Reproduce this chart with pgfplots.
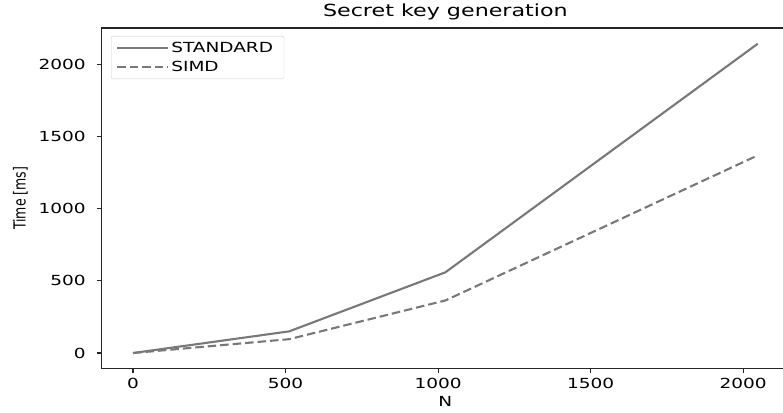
\documentclass[border=0pt]{standalone}
\usepackage{fontspec}
\setmainfont{DejaVu Sans}[FakeStretch=1.33]
\newfontfamily\ylabfont{DejaVu Sans}
\usepackage{graphicx}
\usepackage{pgfplots}
\pgfplotsset{compat=1.18}
\definecolor{linegray}{HTML}{787878}
\definecolor{spine}{HTML}{262626}

% timing results (ms) for secret key generation
\pgfplotstableread{
N    std    simd
0    0      0
512  150    96
1024 559    364
2048 2142   1369
}\keygen

\begin{document}
\begin{tikzpicture}
\begin{axis}[
  at={(0pt,0pt)}, anchor=south west,
  scale only axis, width=687.2pt, height=340.5pt,
  xmin=-102.4, xmax=2150.4, ymin=-107.2, ymax=2251,
  xtick={0,500,1000,1500,2000}, ytick={0,500,1000,1500,2000},
  tick align=outside, tick pos=left, major tick length=4.9pt,
  every tick/.style={spine, line width=1.1pt},
  axis line style={spine, line width=1.1pt},
  /pgf/number format/assume math mode=true,
  /pgf/number format/set thousands separator={},
  ticklabel style={font=\fontsize{13.9}{16}\selectfont, text=black},
  xticklabel style={anchor=base, inner sep=0pt, yshift=-15pt},
  yticklabel style={anchor=east, inner sep=0pt, xshift=-11pt},
  title={Secret key generation},
  title style={font=\fontsize{16.7}{20}\selectfont, at={(axis description cs:0.5,1)}, anchor=base, yshift=5.3pt, inner sep=0pt},
  xlabel={N},
  xlabel style={font=\fontsize{13.9}{16}\selectfont, at={(axis description cs:0.5,0)}, anchor=base, yshift=-37.5pt, inner sep=0pt},
  ylabel={\scalebox{1}[1.33]{\ylabfont\fontsize{12.5}{15}\selectfont Time [ms]}},
  ylabel style={at={(axis description cs:-0.1184,0.5)}, anchor=center, inner sep=0pt},
  legend cell align=left,
  legend style={at={(axis description cs:0.0134,0.9765)}, anchor=north west,
    draw=black!20, rounded corners=2pt, fill=white, fill opacity=0.8, text opacity=1,
    font=\fontsize{13.9}{16}\selectfont, inner xsep=5pt, inner ysep=4pt, row sep=3pt},
  legend image code/.code={\draw[#1] (0pt,0pt) -- (40pt,0pt); \path (0pt,0pt) -- (51pt,0pt);},
]
\addplot[linegray, line width=2.1pt] table[x=N, y=std] {\keygen};
\addlegendentry{STANDARD\hspace*{4pt}}
\addplot[linegray, line width=2.1pt, dash pattern=on 8.5pt off 4pt] table[x=N, y=simd] {\keygen};
\addlegendentry{SIMD}
\end{axis}
\pgfresetboundingbox
\path[use as bounding box] (-101.8pt,-43.5pt) rectangle (681.2pt,368.5pt);
\end{tikzpicture}
\end{document}
